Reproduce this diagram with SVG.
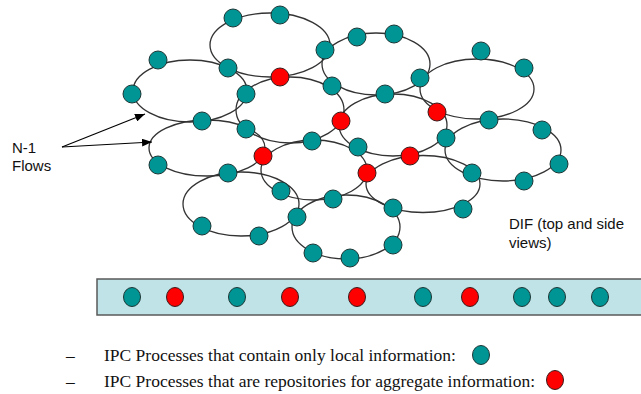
<svg xmlns="http://www.w3.org/2000/svg" width="641" height="394" viewBox="0 0 641 394">
<style>
.ring{fill:none;stroke:#333;stroke-width:1.3}
.t{fill:#009595;stroke:#1d3535;stroke-width:1}
.r{fill:#ff0000;stroke:#3a1a1a;stroke-width:1}
.sans{font-family:"Liberation Sans",Arial,sans-serif;font-size:15px;fill:#111}
.serif{font-family:"Liberation Serif","Times New Roman",serif;font-size:17.5px;fill:#111}
.arrow{stroke:#000;stroke-width:1.2;fill:none}
</style>
<defs>
<marker id="ah" markerWidth="10" markerHeight="8" refX="10" refY="4" orient="auto" markerUnits="userSpaceOnUse">
<path d="M0,0 L10,4 L0,8 Z" fill="#000"/>
</marker>
</defs>
<rect width="641" height="394" fill="#fff"/>
<g id="connectors">
<ellipse class="ring" cx="270" cy="45" rx="60" ry="32"/>
<ellipse class="ring" cx="190" cy="91" rx="57" ry="31"/>
<ellipse class="ring" cx="290" cy="110" rx="54" ry="33"/>
<ellipse class="ring" cx="376" cy="64" rx="54" ry="31"/>
<ellipse class="ring" cx="477" cy="89" rx="57" ry="30"/>
<ellipse class="ring" cx="393" cy="125" rx="54" ry="31"/>
<ellipse class="ring" cx="503" cy="150" rx="58" ry="31"/>
<ellipse class="ring" cx="207" cy="148" rx="58" ry="28"/>
<ellipse class="ring" cx="241" cy="204" rx="58" ry="32"/>
<ellipse class="ring" cx="314" cy="170" rx="53" ry="30"/>
<ellipse class="ring" cx="346" cy="227" rx="54" ry="32"/>
<ellipse class="ring" cx="423" cy="184" rx="57" ry="28.5"/>
<line class="arrow" x1="62" y1="147" x2="145" y2="114" marker-end="url(#ah)"/>
<line class="arrow" x1="62" y1="147" x2="152" y2="142" marker-end="url(#ah)"/>
</g>
<g id="nodes">
<g id="n1"><circle class="t" cx="233" cy="18" r="9"/></g>
<g id="n2"><circle class="t" cx="280" cy="15" r="9"/></g>
<g id="n3"><circle class="t" cx="325" cy="50" r="9"/></g>
<g id="n4"><circle class="t" cx="357" cy="37" r="9"/></g>
<g id="n5"><circle class="t" cx="394" cy="34" r="9"/></g>
<g id="n6"><circle class="t" cx="481" cy="51" r="9"/></g>
<g id="n7"><circle class="t" cx="524" cy="68" r="9"/></g>
<g id="n8"><circle class="t" cx="158" cy="60" r="9"/></g>
<g id="n9"><circle class="t" cx="228" cy="68" r="9"/></g>
<g id="n10"><circle class="t" cx="132" cy="94" r="9"/></g>
<g id="n11"><circle class="t" cx="246" cy="94" r="9"/></g>
<g id="n12"><circle class="t" cx="332" cy="86" r="9"/></g>
<g id="n13"><circle class="t" cx="420" cy="78" r="9"/></g>
<g id="n14"><circle class="t" cx="385" cy="94" r="9"/></g>
<g id="n15"><circle class="t" cx="489" cy="120" r="9"/></g>
<g id="n16"><circle class="t" cx="542" cy="130" r="9"/></g>
<g id="n17"><circle class="t" cx="202" cy="121" r="9"/></g>
<g id="n18"><circle class="t" cx="246" cy="129" r="9"/></g>
<g id="n19"><circle class="t" cx="312" cy="141" r="9"/></g>
<g id="n20"><circle class="t" cx="358" cy="147" r="9"/></g>
<g id="n21"><circle class="t" cx="446" cy="138" r="9"/></g>
<g id="n22"><circle class="t" cx="158" cy="165" r="9"/></g>
<g id="n23"><circle class="t" cx="228" cy="173" r="9"/></g>
<g id="n24"><circle class="t" cx="472" cy="173" r="9"/></g>
<g id="n25"><circle class="t" cx="559" cy="164" r="9"/></g>
<g id="n26"><circle class="t" cx="524" cy="181" r="9"/></g>
<g id="n27"><circle class="t" cx="281" cy="191" r="9"/></g>
<g id="n28"><circle class="t" cx="333" cy="199" r="9"/></g>
<g id="n29"><circle class="t" cx="297" cy="217" r="9"/></g>
<g id="n30"><circle class="t" cx="393" cy="208" r="9"/></g>
<g id="n31"><circle class="t" cx="463" cy="209" r="9"/></g>
<g id="n32"><circle class="t" cx="202" cy="226" r="9"/></g>
<g id="n33"><circle class="t" cx="259" cy="236" r="9"/></g>
<g id="n34"><circle class="t" cx="313" cy="253" r="9"/></g>
<g id="n35"><circle class="t" cx="350" cy="258" r="9"/></g>
<g id="n36"><circle class="t" cx="393" cy="245" r="9"/></g>
<g id="r1"><circle class="r" cx="280" cy="77" r="9"/></g>
<g id="r2"><circle class="r" cx="341" cy="121" r="9"/></g>
<g id="r3"><circle class="r" cx="437" cy="112" r="9"/></g>
<g id="r4"><circle class="r" cx="263" cy="156" r="9"/></g>
<g id="r5"><circle class="r" cx="410" cy="156" r="9"/></g>
<g id="r6"><circle class="r" cx="367" cy="173" r="9"/></g>
</g>
<g id="labels">
<text class="sans" x="12" y="153">N-1</text>
<text class="sans" x="12" y="171">Flows</text>
<text class="sans" x="509" y="229">DIF (top and side</text>
<text class="sans" x="509" y="248">views)</text>
</g>
<g id="side-view">
<rect x="97" y="279" width="560" height="36" fill="#bfe3e6" stroke="#5a5a5a" stroke-width="1.5"/>
<ellipse class="t" cx="132" cy="297" rx="8.5" ry="9.5"/>
<ellipse class="r" cx="175" cy="297" rx="8.5" ry="9.5"/>
<ellipse class="t" cx="237" cy="297" rx="8.5" ry="9.5"/>
<ellipse class="r" cx="290" cy="297" rx="8.5" ry="9.5"/>
<ellipse class="r" cx="357" cy="297" rx="8.5" ry="9.5"/>
<ellipse class="t" cx="423" cy="297" rx="8.5" ry="9.5"/>
<ellipse class="r" cx="470" cy="297" rx="8.5" ry="9.5"/>
<ellipse class="t" cx="522" cy="297" rx="8.5" ry="9.5"/>
<ellipse class="t" cx="557" cy="297" rx="8.5" ry="9.5"/>
<ellipse class="t" cx="600" cy="297" rx="8.5" ry="9.5"/>
</g>
<g id="legend">
<text class="serif" x="66" y="361">–</text>
<text class="serif" x="104" y="361">IPC Processes that contain only local information:</text>
<ellipse class="t" cx="481" cy="355" rx="8.5" ry="9.5"/>
<text class="serif" x="66" y="387">–</text>
<text class="serif" x="104" y="387">IPC Processes that are repositories for aggregate information:</text>
<ellipse class="r" cx="555" cy="380" rx="8.5" ry="9.5"/>
</g>
</svg>
